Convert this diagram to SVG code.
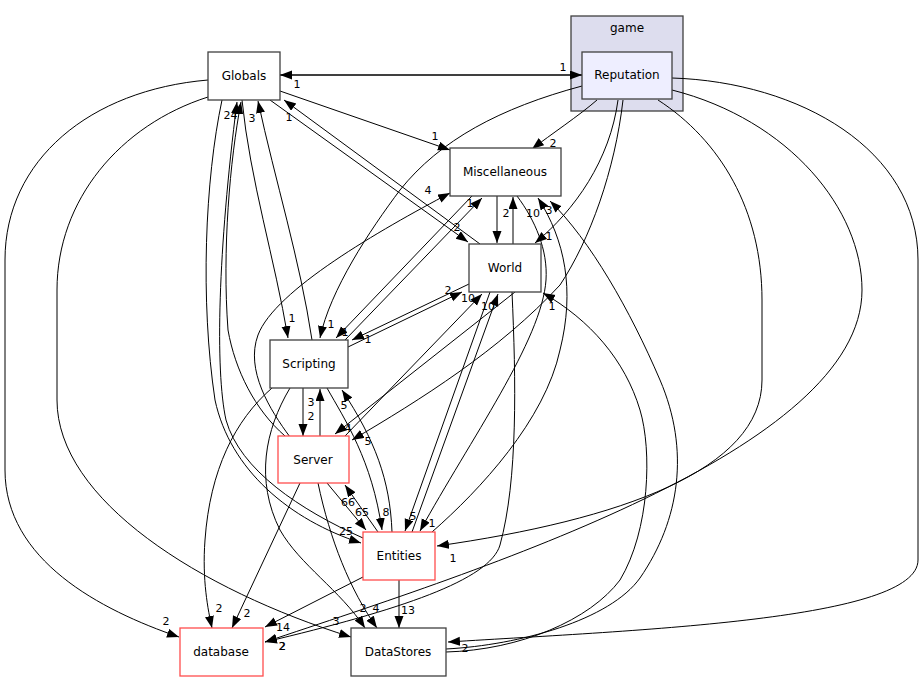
<svg xmlns="http://www.w3.org/2000/svg" width="921" height="681" viewBox="0 0 921 681">
<style>
.n{fill:#fff;stroke:#404040;stroke-width:1.3}
.r{fill:#fff;stroke:#ff4d4d;stroke-width:1.3}
.t{font-family:"DejaVu Sans",sans-serif;font-size:12px;text-anchor:middle;fill:#000}
.e path{fill:none;stroke:#000;stroke-width:1;marker-end:url(#ah)}
.l{font-family:"DejaVu Sans",sans-serif;font-size:11px;text-anchor:middle;fill:#000}
</style>
<defs>
<marker id="ah" markerUnits="userSpaceOnUse" markerWidth="13" markerHeight="10" refX="12" refY="4.5" orient="auto"><path d="M0,0 L12,4.5 L0,9 z" fill="#000"/></marker>
</defs>
<rect width="921" height="681" fill="#fff"/>
<g id="cluster_game">
<rect x="571" y="16" width="112" height="95" fill="#ddddee" stroke="#404040" stroke-width="1.3"/>
<text class="t" x="627" y="32">game</text>
</g>
<g id="connectors" class="e">
<path d="M582,75 L280,75"/>
<path d="M280,75 L582,75"/>
<path d="M280,91 L450,150"/>
<path d="M597,100 C580,115 550,135 532,149"/>
<path d="M290,437 C270,410 245,370 258,335 C275,290 380,230 450,193"/>
<path d="M345,340 L482,198"/>
<path d="M472,196 L336,338"/>
<path d="M513,244 L513,197"/>
<path d="M497,196 L497,243"/>
<path d="M432,532 C480,490 545,420 560,350 C575,290 565,240 538,198"/>
<path d="M446,649 C520,645 610,620 640,578 C680,520 690,450 660,380 C630,310 590,240 550,201"/>
<path d="M618,100 C610,160 575,210 535,243"/>
<path d="M270,100 L468,242"/>
<path d="M480,244 L284,100"/>
<path d="M242,100 C250,180 275,260 288,338"/>
<path d="M312,340 C300,260 275,180 258,101"/>
<path d="M582,86 C500,108 440,140 400,190 C370,230 330,290 320,338"/>
<path d="M469,284 L352,340"/>
<path d="M348,347 L462,292"/>
<path d="M345,436 L482,294"/>
<path d="M515,292 L335,434"/>
<path d="M490,292 L405,531"/>
<path d="M412,532 L498,294"/>
<path d="M517,196 C535,220 548,250 546,280 C542,340 470,440 420,531"/>
<path d="M623,100 C615,170 590,240 560,285 C500,350 420,400 352,440"/>
<path d="M658,100 C720,140 762,210 762,300 L762,380 C762,470 620,520 437,546"/>
<path d="M672,90 C790,120 862,210 862,290 C862,450 480,570 265,642"/>
<path d="M672,78 C800,82 918,150 918,260 L918,560 C918,620 640,630 448,642"/>
<path d="M446,652 C520,650 590,620 620,580 C650,530 652,450 640,410 C625,360 590,320 543,293"/>
<path d="M303,388 L303,436"/>
<path d="M320,436 L320,389"/>
<path d="M392,532 C390,480 375,440 342,390"/>
<path d="M327,388 C345,420 372,460 382,530"/>
<path d="M327,483 L366,530"/>
<path d="M378,532 L345,485"/>
<path d="M222,100 C205,180 200,300 215,400 C230,470 290,520 361,543"/>
<path d="M363,538 C300,510 240,470 226,420 C215,370 218,250 237,102"/>
<path d="M285,436 C255,410 235,370 228,330 C222,250 230,160 241,102"/>
<path d="M272,388 C235,420 210,470 205,540 C202,580 208,610 212,628"/>
<path d="M300,483 L232,628"/>
<path d="M363,577 L265,627"/>
<path d="M512,292 C516,380 518,480 500,545 C490,580 400,610 265,642"/>
<path d="M208,80 C90,90 5,160 5,260 L5,470 C5,560 100,610 179,637"/>
<path d="M208,97 C120,125 57,200 57,290 L57,400 C57,500 200,590 351,637"/>
<path d="M290,388 C265,430 255,480 280,530 C300,565 340,590 365,628"/>
<path d="M318,483 C330,540 350,590 377,628"/>
<path d="M399,580 L399,628"/>
</g>
<g id="edge_labels">
<text class="l" x="297" y="88">1</text>
<text class="l" x="563" y="71">1</text>
<text class="l" x="435" y="140">1</text>
<text class="l" x="553" y="147">2</text>
<text class="l" x="428" y="194">4</text>
<text class="l" x="470" y="207">1</text>
<text class="l" x="506" y="217">2</text>
<text class="l" x="507" y="255">1</text>
<text class="l" x="533" y="217">10</text>
<text class="l" x="549" y="214">3</text>
<text class="l" x="549" y="240">1</text>
<text class="l" x="457" y="231">2</text>
<text class="l" x="289" y="121">1</text>
<text class="l" x="227" y="119">2</text>
<text class="l" x="234" y="119">4</text>
<text class="l" x="252" y="122">3</text>
<text class="l" x="292" y="322">1</text>
<text class="l" x="331" y="328">1</text>
<text class="l" x="345" y="336">1</text>
<text class="l" x="368" y="343">1</text>
<text class="l" x="448" y="294">2</text>
<text class="l" x="468" y="302">10</text>
<text class="l" x="488" y="310">10</text>
<text class="l" x="552" y="310">1</text>
<text class="l" x="311" y="406">3</text>
<text class="l" x="311" y="420">2</text>
<text class="l" x="344" y="409">5</text>
<text class="l" x="348" y="432">4</text>
<text class="l" x="368" y="445">5</text>
<text class="l" x="348" y="506">66</text>
<text class="l" x="362" y="516">65</text>
<text class="l" x="386" y="516">8</text>
<text class="l" x="346" y="535">25</text>
<text class="l" x="413" y="520">5</text>
<text class="l" x="432" y="527">1</text>
<text class="l" x="453" y="562">1</text>
<text class="l" x="166" y="625">2</text>
<text class="l" x="219" y="612">2</text>
<text class="l" x="247" y="617">2</text>
<text class="l" x="283" y="631">14</text>
<text class="l" x="282" y="650">2</text>
<text class="l" x="282.6" y="650">2</text>
<text class="l" x="336" y="625">3</text>
<text class="l" x="363" y="612">2</text>
<text class="l" x="376" y="612">4</text>
<text class="l" x="408" y="614">13</text>
<text class="l" x="465" y="652">2</text>
</g>
<g id="node_Reputation"><rect x="582" y="52" width="90" height="47" fill="#eeeeff" stroke="#404040" stroke-width="1.3"/><text class="t" x="627" y="79">Reputation</text></g>
<g id="node_Globals"><rect class="n" x="208" y="52" width="72" height="48"/><text class="t" x="244" y="80">Globals</text></g>
<g id="node_Miscellaneous"><rect class="n" x="450" y="148" width="111" height="48"/><text class="t" x="505" y="176">Miscellaneous</text></g>
<g id="node_World"><rect class="n" x="469" y="244" width="72" height="48"/><text class="t" x="505" y="272">World</text></g>
<g id="node_Scripting"><rect class="n" x="270" y="340" width="78" height="48"/><text class="t" x="309" y="368">Scripting</text></g>
<g id="node_Server"><rect class="r" x="278" y="436" width="71" height="47"/><text class="t" x="313" y="464">Server</text></g>
<g id="node_Entities"><rect class="r" x="363" y="532" width="72" height="48"/><text class="t" x="399" y="560">Entities</text></g>
<g id="node_DataStores"><rect class="n" x="351" y="628" width="95" height="48"/><text class="t" x="398" y="656">DataStores</text></g>
<g id="node_database"><rect class="r" x="180" y="628" width="83" height="48"/><text class="t" x="221" y="656">database</text></g>
</svg>
